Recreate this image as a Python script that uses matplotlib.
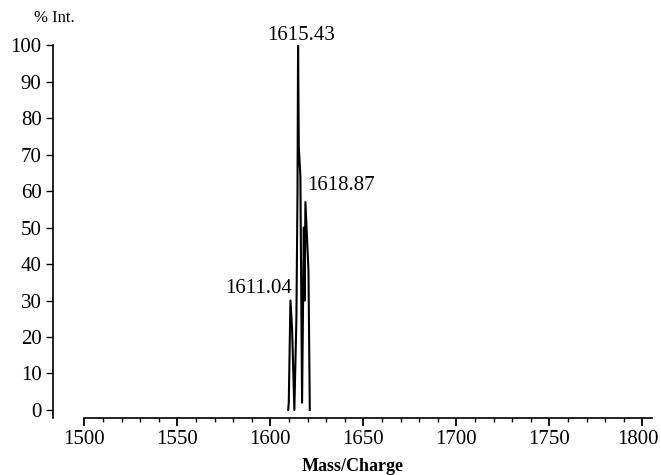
"""Mass spectrum of the isotope cluster near m/z 1615."""

import matplotlib

matplotlib.use("Agg")
import matplotlib.pyplot as plt
import matplotlib.transforms as mtransforms
from matplotlib.ticker import FixedLocator

# profile trace (m/z, % intensity)
mz = [1609.6, 1609.9, 1610.8, 1611.7, 1612.9, 1614.0, 1614.6, 1614.9,
      1615.3, 1616.15, 1617.05, 1618.0, 1618.4, 1618.85, 1619.9, 1620.5,
      1621.2]
intensity = [0.0, 2.0, 30.0, 22.0, 0.0, 25.0, 60.0, 100.0,
             72.0, 64.0, 2.0, 50.0, 30.0, 57.0, 45.0, 38.0,
             0.0]

peak_labels = ["1615.43", "1618.87", "1611.04"]
peak_label_pos = [(1616.3, 102.7), (1620.0, 61.4), (1611.9, 33.4)]

x_ticks = [1500, 1550, 1600, 1650, 1700, 1750, 1800]
x_minor = [m for m in range(1510, 1800, 10) if m % 50]
y_ticks = [0, 10, 20, 30, 40, 50, 60, 70, 80, 90, 100]

plt.rcParams["font.family"] = ["Liberation Serif", "DejaVu Serif"]
plt.rcParams["font.size"] = 15

fig = plt.figure(figsize=(6.61, 4.75), dpi=100)
ax = fig.add_axes([0.0797, 0.12, 0.9074, 0.785])

ax.plot(mz, intensity, color="black", linewidth=1.5)

ax.set_xlim(1483.0, 1805.4)
ax.set_ylim(-2.2, 100)

for side in ("top", "right"):
    ax.spines[side].set_visible(False)
ax.spines["left"].set_linewidth(1.2)
ax.spines["bottom"].set_linewidth(1.2)
ax.spines["bottom"].set_bounds(1500, 1805.4)

ax.set_xticks(x_ticks)
ax.xaxis.set_minor_locator(FixedLocator(x_minor))
ax.set_yticks(y_ticks)
ax.tick_params(axis="x", which="major", direction="out", length=6, width=1.3, pad=3)
ax.tick_params(axis="x", which="minor", direction="out", length=3, width=1.0)
ax.tick_params(axis="y", direction="out", length=5, width=1.0, pad=3)

# the last tick label sits a little left of its tick in the reference
last = ax.get_xticklabels()[-1]
shift = mtransforms.ScaledTranslation(-5 / 100, 0, fig.dpi_scale_trans)
last.set_transform(last.get_transform() + shift)

ax.set_xlabel("Mass/Charge", fontweight="bold", fontsize=13, labelpad=6)

ax.text(1484.0, 107.4, "% Int.", fontsize=12, ha="center", va="center",
        clip_on=False)

ha_list = ["center", "left", "right"]
for text, (x, y), ha in zip(peak_labels, peak_label_pos, ha_list):
    ax.text(x, y, text, ha=ha, va="center", fontsize=15)

fig.savefig("out.png", dpi=100)
